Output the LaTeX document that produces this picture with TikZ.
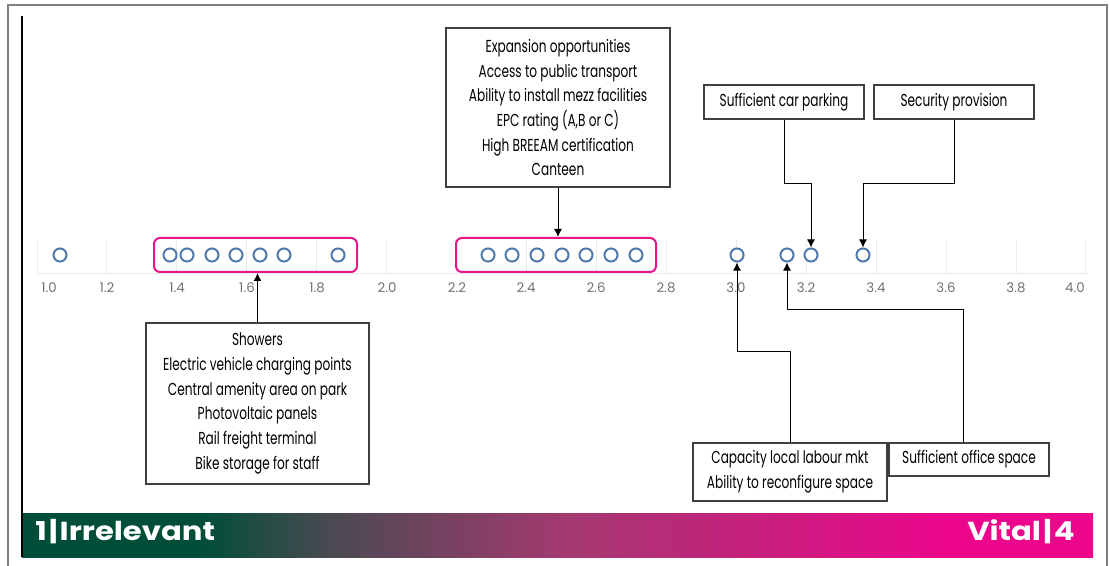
\documentclass[tikz,border=0pt]{standalone}
\usepackage{fontspec}
\setmainfont{Poppins}
\newfontfamily\boxfont{Poppins}[FakeStretch=0.70]
\newfontfamily\barfont{Poppins}[FakeStretch=1.18]
\usetikzlibrary{arrows.meta}
\definecolor{framegray}{HTML}{808080}
\definecolor{dotblue}{HTML}{4E79AD}
\definecolor{magbox}{HTML}{E6168A}
\definecolor{gridgray}{HTML}{EBEBEB}
\definecolor{tickgray}{HTML}{767171}
\definecolor{boxline}{HTML}{404040}
\definecolor{gA}{HTML}{004E38}
\definecolor{gB}{HTML}{4A4A52}
\definecolor{gC}{HTML}{A23A6F}
\definecolor{gD}{HTML}{EC068C}
\pgfdeclarehorizontalshading{barshade}{100bp}{color(0bp)=(gA); color(25bp)=(gA); color(33.3bp)=(gA); color(39.4bp)=(gB); color(50.1bp)=(gC); color(68.3bp)=(gD); color(75bp)=(gD); color(100bp)=(gD)}
\begin{document}
\begin{tikzpicture}[x=0.75pt,y=-0.75pt,
  dot/.style={circle,draw=dotblue,line width=1.5pt,fill=white,minimum size=9.8pt,inner sep=0pt},
  grp/.style={draw=magbox,line width=1.5pt,rounded corners=4.5pt,minimum height=25.5pt,inner sep=0pt},
  lbox/.style={draw=boxline,line width=0.9pt,fill=white,align=center,inner sep=0pt,font=\boxfont\fontsize{13}{18.5}\selectfont},
  arr/.style={draw=black,line width=0.75pt,-{Latex[length=6pt,width=6pt]}},
  ticklab/.style={font=\fontsize{10}{12}\selectfont,text=tickgray,inner sep=0pt},
  bartext/.style={font=\barfont\bfseries\fontsize{19.5}{22}\selectfont,text=white,inner sep=0pt},
  gridline/.style={draw=gridgray,line width=0.75pt},
  frameline/.style={draw=framegray,line width=1.9pt}
]
\useasboundingbox (0,0) rectangle (1110,566);
% gradient bar
\shade[shading=barshade] (22,513) rectangle (1093,557);
\node[bartext,anchor=base west] (lo) at (35,540) {1\kern1.5pt|\kern1.5pt Irrelevant};
\node[bartext,anchor=base east] (hi) at (1075,540) {Vital\kern1.5pt|\kern1.5pt 4};
% frame
\draw[frameline] (8,570) -- (8,5) -- (1107,5) -- (1107,570);
\draw[black,line width=0.9pt] (22,16) -- (22,557);
% grid and axis
\foreach \v in {0,...,15} { \draw[gridline] ({37+\v*69.93},240) -- ({37+\v*69.93},274); }
\draw[gridline] (37,274) -- (1088,274);
\foreach \xx/\t in {49/1.0,107/1.2,177/1.4,247/1.6,317/1.8,387/2.0,457/2.2,526/2.4,596/2.6,666/2.8,736/3.0,806/3.2,876/3.4,946/3.6,1016/3.8,1075/4.0}
  { \node[ticklab] at (\xx,288) {\t}; }
% groups
\node[grp,minimum width=152.25pt] (g1) at (255.5,255) {};
\node[grp,minimum width=150pt] (g2) at (556,255) {};
% dots
\node[dot] (a1) at (60,255) {};
\node[dot] (b1) at (170,255) {};
\node[dot] (b2) at (187,255) {};
\node[dot] (b3) at (212,255) {};
\node[dot] (b4) at (236,255) {};
\node[dot] (b5) at (260,255) {};
\node[dot] (b6) at (284,255) {};
\node[dot] (b7) at (338,255) {};
\node[dot] (d1) at (488,255) {};
\node[dot] (d2) at (512,255) {};
\node[dot] (d3) at (537,255) {};
\node[dot] (d4) at (562,255) {};
\node[dot] (d5) at (586,255) {};
\node[dot] (d6) at (611,255) {};
\node[dot] (d7) at (636,255) {};
\node[dot] (e1) at (737,255) {};
\node[dot] (e2) at (787,255) {};
\node[dot] (e3) at (811,255) {};
\node[dot] (e4) at (863,255) {};
% label boxes
\node[lbox,minimum width=168pt,minimum height=119.25pt] (top) at (558,107.5)
  {Expansion opportunities\\Access to public transport\\Ability to install mezz facilities\\EPC rating (A,B or C)\\High BREEAM certification\\Canteen};
\node[lbox,minimum width=167.25pt,minimum height=120.75pt] (show) at (257.5,403.5)
  {Showers\\Electric vehicle charging points\\Central amenity area on park\\Photovoltaic panels\\Rail freight terminal\\Bike storage for staff};
\node[lbox,minimum width=120pt,minimum height=25.5pt] (park) at (784,102) {Sufficient car parking};
\node[lbox,minimum width=120pt,minimum height=25.5pt] (sec) at (954,102) {Security provision};
\node[lbox,minimum width=145.5pt,minimum height=43.5pt] (cap) at (790,472) {Capacity local labour mkt\\Ability to reconfigure space};
\node[lbox,minimum width=120pt,minimum height=24.75pt] (office) at (969,459.5) {Sufficient office space};
% connectors
\draw[arr] (top.south) -- (top.south |- g2.north);
\draw[arr] (show.north) -- (show.north |- g1.south);
\draw[arr] (park.south) -- ++(0,64) -| (e3.north);
\draw[arr] (sec.south) -- ++(0,64) -| (e4.north);
\draw[arr] (cap.north) -- ++(0,-91) -| (e1.south);
\draw[arr] ([xshift=-4.5pt]office.north) -- ++(0,-133) -| (e2.south);
\end{tikzpicture}
\end{document}
